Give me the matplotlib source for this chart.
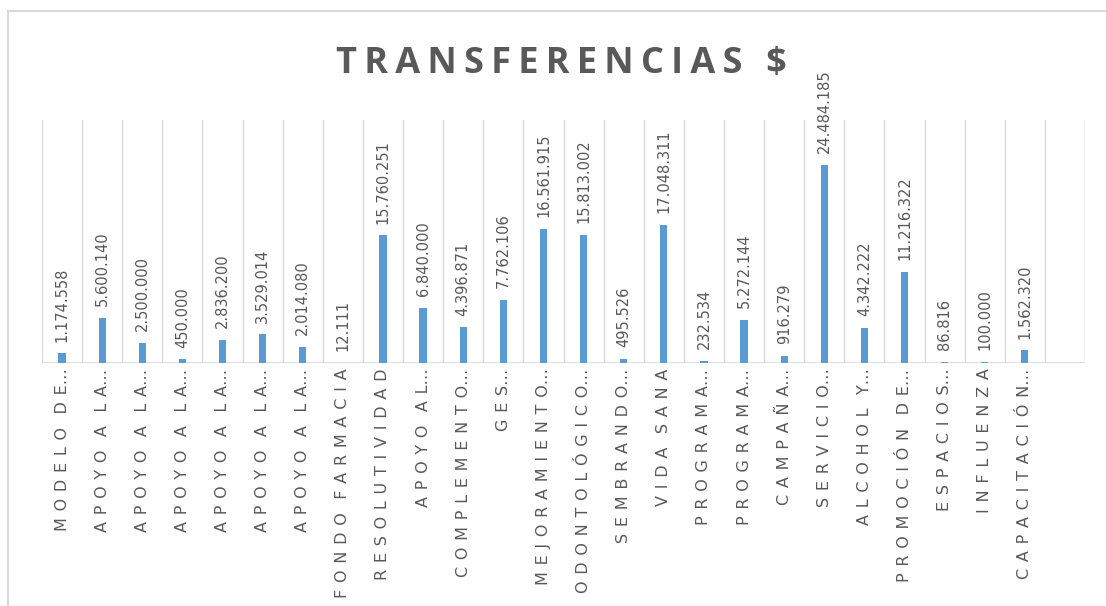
import numpy as np
import matplotlib
matplotlib.use("Agg")
from matplotlib import pyplot as plt
from matplotlib.patches import Rectangle

# categorías y montos
etiquetas = ["MODELO DE…", "APOYO A LA…", "APOYO A LA…", "APOYO A LA…", "APOYO A LA…",
             "APOYO A LA…", "APOYO A LA…", "FONDO FARMACIA", "RESOLUTIVIDAD", "APOYO AL…",
             "COMPLEMENTO…", "GES…", "MEJORAMIENTO…", "ODONTOLÓGICO…", "SEMBRANDO…",
             "VIDA SANA", "PROGRAMA…", "PROGRAMA…", "CAMPAÑA…", "SERVICIO…",
             "ALCOHOL Y…", "PROMOCIÓN DE…", "ESPACIOS…", "INFLUENZA", "CAPACITACIÓN…", ""]
montos = [1174558, 5600140, 2500000, 450000, 2836200, 3529014, 2014080, 12111,
          15760251, 6840000, 4396871, 7762106, 16561915, 15813002, 495526, 17048311,
          232534, 5272144, 916279, 24484185, 4342222, 11216322, 86816, 100000, 1562320]
titulo = "TRANSFERENCIAS $"

gris = "#595959"
azul = "#5b9bd5"


def espaciar(s, sep, sep_palabra):
    # simula el espaciado entre letras de Excel
    fin = ""
    if s.endswith("…"):
        s, fin = s[:-1], "…"
    return sep_palabra.join(sep.join(p) for p in s.split(" ")) + fin


def miles(v):
    return f"{v:,}".replace(",", ".")


fig = plt.figure(figsize=(11.06, 6.06), dpi=100)
ax = fig.add_axes([42 / 1106, 1 - 363 / 606, (1085 - 42) / 1106, (363 - 120) / 606])

n = len(etiquetas)
x = np.arange(len(montos))
ax.bar(x, montos, width=0.18, color=azul, zorder=3)
ax.set_xlim(-0.5, n - 0.5)
ax.set_ylim(0, 30000000)

# separadores de categoría
for b in np.arange(-0.5, n, 1.0):
    ax.axvline(b, color="#d9d9d9", lw=1, zorder=1)

for s in ax.spines.values():
    s.set_visible(False)
ax.axhline(0, color="#d9d9d9", lw=1.2, zorder=2)
ax.set_yticks([])
ax.set_xticks(np.arange(n))
ax.set_xticklabels([espaciar(e, " \u200a", "  \u2009") for e in etiquetas],
                   rotation=90, va="top", ha="center",
                   fontsize=11.5, color=gris, family=["DejaVu Sans"])
ax.tick_params(axis="x", length=0, pad=4)

for xi, v in zip(x, montos):
    ax.annotate(miles(v), (xi, v), xytext=(0, 8.5),
                textcoords="offset points", rotation=90, ha="center", va="bottom",
                fontsize=10.5, color=gris)

fig.text(561 / 1106, 1 - 64 / 606, espaciar(titulo, "\u2009", "\u2009\u2009 "),
         ha="center", va="center", fontsize=26, fontweight="bold", color=gris,
         family=["Open Sans", "DejaVu Sans"])

# marco del gráfico
fig.patches.append(Rectangle((8 / 1106, -0.1), 1.2, 1 - 11 / 606 + 0.1, transform=fig.transFigure,
                             fill=False, edgecolor="#d9d9d9", lw=1.5))

fig.savefig("out.png", dpi=100)
